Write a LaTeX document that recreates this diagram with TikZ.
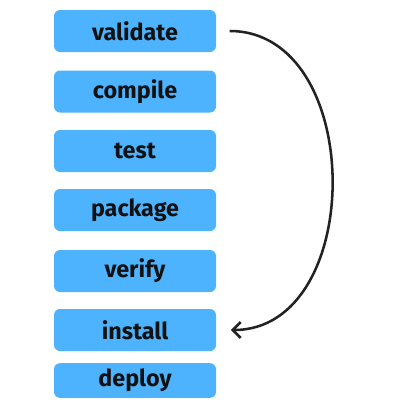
\documentclass[tikz,border=0pt]{standalone}
\usepackage{fontspec}
\setmainfont{Fira Sans}
\usetikzlibrary{arrows.meta}
\definecolor{boxblue}{HTML}{4DB3FF}
\definecolor{ink}{HTML}{111111}
\definecolor{arrowc}{HTML}{222222}
\begin{document}
\begin{tikzpicture}[x=0.75pt,y=-0.75pt,
  stage/.style={fill=boxblue,draw=none,rounded corners=4.5pt,minimum width=121.5pt,
    minimum height=31.5pt,inner sep=0pt,text=ink,font=\fontsize{17.5}{20}\selectfont\bfseries},
  flow/.style={draw=arrowc,line width=1.9pt,-{Straight Barb[length=6pt,width=12pt,line width=1.9pt]}}]
\useasboundingbox (0,0) rectangle (400,400);
\node[stage] (validate) at (135,31) {validate};
\node[stage] (compile) at (135,91.5) {compile};
\node[stage] (test) at (135,151) {test};
\node[stage] (package) at (135,210) {package};
\node[stage] (verify) at (135,271) {verify};
\node[stage] (install) at (135,330) {install};
\node[stage,minimum height=26pt] (deploy) at (135,380.5) {deploy};
\draw[flow,shorten <=10pt,shorten >=11pt] (validate.east) .. controls +(150,0) and +(150,0) .. (install.east);
\end{tikzpicture}
\end{document}
